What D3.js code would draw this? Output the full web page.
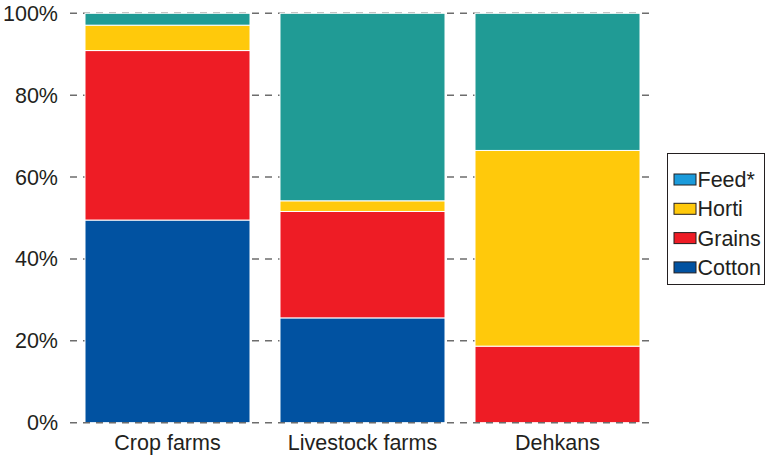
<!DOCTYPE html>
<html>
<head>
<meta charset="utf-8">
<script src="https://cdn.jsdelivr.net/npm/d3@7"></script>
<style>
  html, body { margin: 0; padding: 0; background: #fff; }
  svg { display: block; font-family: "Liberation Sans", Arial, sans-serif; }
</style>
</head>
<body>
<svg id="chart" width="767" height="457"></svg>
<script>
// Share of each crop group by farm type (percent)
const categories = ["Crop farms", "Livestock farms", "Dehkans"];
const cotton = [49.5, 25.6, 0];
const grains = [41.4, 26.0, 18.7];
const horti  = [6.2, 2.6, 47.8];
const feed   = [2.9, 45.8, 33.5];
const yTicks = [0, 20, 40, 60, 80, 100];

const seriesNames = ["Cotton", "Grains", "Horti", "Feed*"];
const barColors = { "Cotton": "#0152a1", "Grains": "#ee1c25", "Horti": "#ffc90b", "Feed*": "#209b95" };
const legendColors = { "Cotton": "#0152a1", "Grains": "#ee1c25", "Horti": "#ffc90b", "Feed*": "#1b9bdb" };

const rows = categories.map((c, i) => ({
  cat: c, "Cotton": cotton[i], "Grains": grains[i], "Horti": horti[i], "Feed*": feed[i]
}));

const svg = d3.select("#chart");
const x0 = 70, x1 = 655, yTop = 13.3, yBot = 422.7;

const x = d3.scaleBand().domain(categories).range([x0, x1])
  .paddingInner(30 / 195).paddingOuter(15 / 195);
const y = d3.scaleLinear().domain([0, 100]).range([yBot, yTop]);

// gridlines behind bars
svg.append("g").selectAll("line").data(yTicks.filter(t => t > 0)).join("line")
  .attr("x1", x0).attr("x2", x1)
  .attr("y1", d => y(d)).attr("y2", d => y(d))
  .attr("stroke", "#6d6d6d").attr("stroke-width", 1.4)
  .attr("stroke-dasharray", "7,6");

const stack = d3.stack().keys(seriesNames);
const layers = stack(rows);

svg.append("g").selectAll("g").data(layers).join("g")
  .attr("fill", d => barColors[d.key])
  .selectAll("rect").data(d => d.filter(p => p[1] - p[0] > 0)).join("rect")
  .attr("x", d => x(d.data.cat))
  .attr("width", x.bandwidth())
  .attr("y", d => y(d[1]))
  .attr("height", d => y(d[0]) - y(d[1]))
  .attr("stroke", "#fff").attr("stroke-width", 1);

// baseline at 0%
svg.append("line")
  .attr("x1", x0).attr("x2", x1).attr("y1", y(0)).attr("y2", y(0))
  .attr("stroke", "#6d6d6d").attr("stroke-width", 1.4)
  .attr("stroke-dasharray", "7,6");

// y tick labels
svg.append("g").selectAll("text").data(yTicks).join("text")
  .attr("x", 58).attr("y", d => y(d)).attr("dy", "0.35em")
  .attr("text-anchor", "end").attr("font-size", 21.5).attr("fill", "#231f20")
  .text(d => d + "%");

// category labels
svg.append("g").selectAll("text").data(categories).join("text")
  .attr("x", d => x(d) + x.bandwidth() / 2).attr("y", 450)
  .attr("text-anchor", "middle").attr("font-size", 21.5).attr("fill", "#231f20")
  .text(d => d);

// legend
const legendItems = ["Feed*", "Horti", "Grains", "Cotton"];
const lg = svg.append("g");
lg.append("rect").attr("x", 667.5).attr("y", 153.5).attr("width", 97).attr("height", 131)
  .attr("fill", "#fff").attr("stroke", "#231f20").attr("stroke-width", 1);
const li = lg.selectAll("g").data(legendItems).join("g")
  .attr("transform", (d, i) => `translate(674, ${179.5 + i * 29.3})`);
li.append("rect").attr("x", 0).attr("y", -5.5).attr("width", 22).attr("height", 11)
  .attr("fill", d => legendColors[d]).attr("stroke", "#231f20").attr("stroke-width", 1);
li.append("text").attr("x", 23.5).attr("y", 0).attr("dy", "0.35em")
  .attr("font-size", 21.5).attr("fill", "#231f20").text(d => d);
</script>
</body>
</html>
